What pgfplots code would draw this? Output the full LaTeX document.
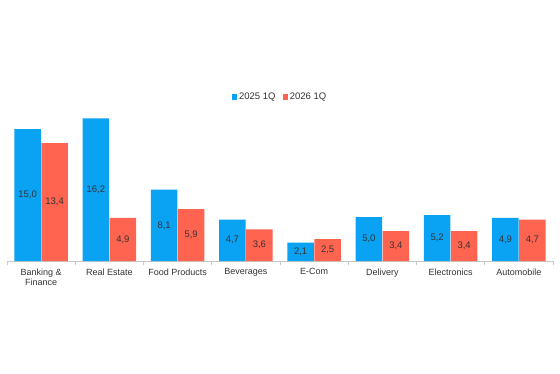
\documentclass[border=0pt]{standalone}
\usepackage{pgfplots}
\pgfplotsset{compat=1.18}
\usepackage{fontspec}
\setmainfont{Liberation Sans}
\definecolor{cblue}{HTML}{0AA2F2}
\definecolor{cred}{HTML}{FF6450}
\definecolor{cgrid}{HTML}{C8C8C8}
\definecolor{ctext}{HTML}{333333}
\begin{document}
\begin{tikzpicture}
\path[use as bounding box] (0,0) rectangle (560pt,373pt);
\begin{axis}[
  at={(7pt,112pt)}, anchor=south west,
  scale only axis, width=546pt, height=176pt,
  xmin=-0.5, xmax=7.5, ymin=0, ymax=20,
  ybar=0.6pt, bar width=26.4pt,
  /pgf/number format/assume math mode=true,
  axis y line=none, axis x line*=bottom,
  x axis line style={cgrid, line width=0.6pt, -},
  xtick=data,
  xticklabels={{Banking \&\\Finance},Real Estate,Food Products,Beverages,E-Com,Delivery,Electronics,Automobile},
  xticklabel style={align=center, font=\fontsize{9}{10.5}\selectfont, text=ctext, yshift=-4pt},
  major tick length=0pt,
  extra x ticks={-0.5,0.5,1.5,2.5,3.5,4.5,5.5,6.5,7.5},
  extra x tick labels={},
  extra x tick style={major tick length=4pt, tick style={cgrid, line width=0.6pt}, tick pos=bottom, tick align=outside},
  visualization depends on=rawy \as \rawy,
  nodes near coords={\pgfmathprintnumber[fixed,fixed zerofill,precision=1,use comma,assume math mode=true]{\pgfplotspointmeta}},
  nodes near coords style={anchor=center, font=\fontsize{9.5}{11}\selectfont, text=ctext, shift={(axis direction cs:0,-0.5*\rawy)}},
  legend style={at={(0.5,0.932)}, anchor=center, draw=none, fill=none, legend columns=2,
    font=\fontsize{9.5}{11}\selectfont, text=ctext,
    /tikz/every even column/.append style={column sep=5pt}},
  legend image code/.code={\fill[#1] (0pt,-2.7pt) rectangle (5.4pt,2.7pt);},
  legend cell align=left,
]
\addplot[fill=cblue, draw=none] coordinates {(0,15.0) (1,16.2) (2,8.1) (3,4.7) (4,2.1) (5,5.0) (6,5.2) (7,4.9)};
\addplot[fill=cred, draw=none] coordinates {(0,13.4) (1,4.9) (2,5.9) (3,3.6) (4,2.5) (5,3.4) (6,3.4) (7,4.7)};
\legend{2025 1Q, 2026 1Q}
\end{axis}
\end{tikzpicture}
\end{document}
